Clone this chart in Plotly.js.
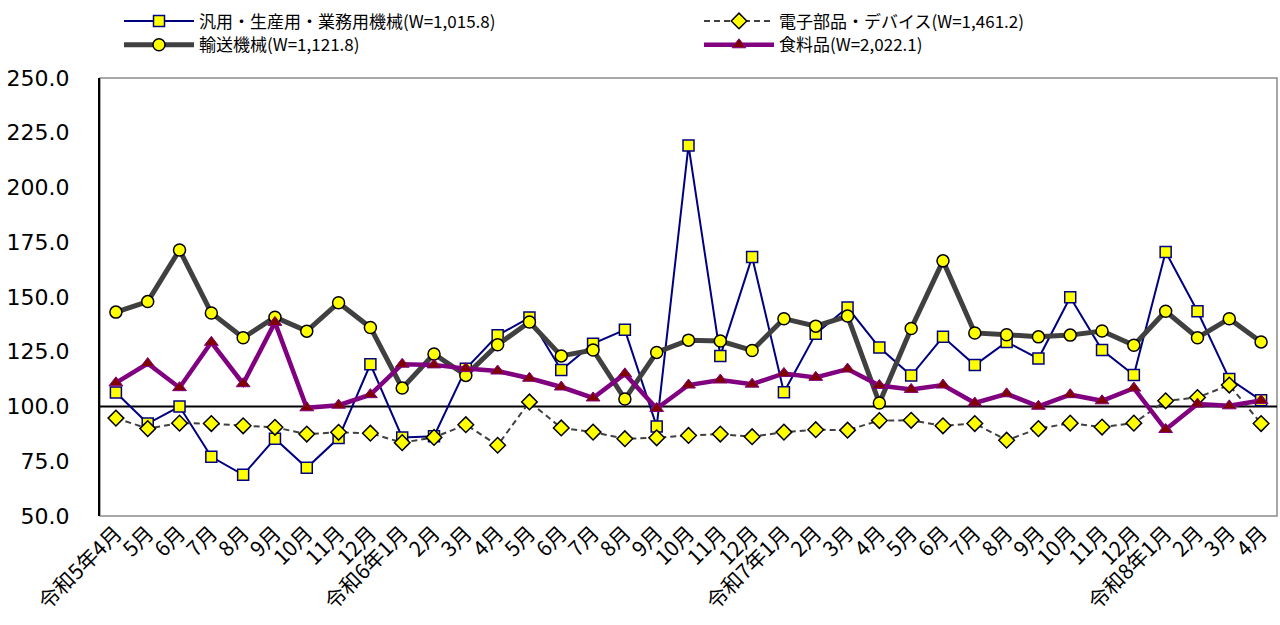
<!DOCTYPE html>
<html>
<head>
<meta charset="utf-8">
<script src="https://cdn.plot.ly/plotly-3.0.1.min.js"></script>
<style>html,body{margin:0;padding:0;background:#fff;}#chart{width:1280px;height:625px;}</style>
</head>
<body>
<div id="chart"></div>
<script>
const categories = ["令和5年4月","5月","6月","7月","8月","9月","10月","11月","12月",
  "令和6年1月","2月","3月","4月","5月","6月","7月","8月","9月","10月","11月","12月",
  "令和7年1月","2月","3月","4月","5月","6月","7月","8月","9月","10月","11月","12月",
  "令和8年1月","2月","3月","4月"];

const seriesNames = ["汎用・生産用・業務用機械(W=1,015.8)","電子部品・デバイス(W=1,461.2)","輸送機械(W=1,121.8)","食料品(W=2,022.1)"];

const machinery = [106.4,92.2,100.0,77.0,68.8,85.3,72.0,85.6,119.3,85.9,86.4,117.2,132.5,140.6,116.7,128.7,135.0,90.9,219.2,123.1,168.3,106.5,133.2,145.2,126.9,114.1,131.8,118.9,129.5,121.9,149.9,125.8,114.4,170.6,143.5,112.6,102.8];
const electronics = [94.7,89.9,92.4,92.2,91.2,90.5,87.4,88.2,87.8,83.5,85.9,91.7,82.3,102.1,90.2,88.3,85.3,85.7,86.8,87.4,86.2,88.3,89.4,89.2,93.6,93.7,91.2,92.2,84.6,89.9,92.4,90.6,92.4,102.6,104.1,109.8,92.2];
const transport = [143.1,147.9,171.5,142.7,131.4,140.8,134.4,147.4,136.1,108.4,124.0,114.2,128.2,138.6,123.1,125.8,103.4,124.7,130.3,129.9,125.6,140.1,136.7,141.3,101.6,135.6,166.5,133.6,132.8,131.8,132.6,134.5,128.0,143.5,131.4,140.1,129.5];
const food = [110.8,119.6,108.6,129.3,110.4,138.4,99.4,100.6,105.4,119.3,119.0,117.3,116.2,112.9,108.9,103.9,114.9,99.1,109.8,112.1,110.2,115.1,113.3,117.1,109.6,107.8,109.8,101.6,105.8,100.1,105.4,102.6,108.4,89.5,101.1,100.3,102.7];

const fontFam = '"Noto Sans CJK JP", "Noto Sans", sans-serif';
const xIdx = categories.map((_, i) => i);

const traces = [
  {x: xIdx, y: machinery, name: seriesNames[0], type: 'scatter', mode: 'lines+markers', legend: 'legend',
   line: {color: '#000080', width: 2},
   marker: {symbol: 'square', size: 11, color: '#FFFF00', line: {color: '#000080', width: 1.5}}},
  {x: xIdx, y: electronics, name: seriesNames[1], type: 'scatter', mode: 'lines+markers', legend: 'legend2',
   line: {color: '#404040', width: 2, dash: '6px,4px'},
   marker: {symbol: 'diamond', size: 12, color: '#FFFF00', line: {color: '#000000', width: 1.5}}},
  {x: xIdx, y: transport, name: seriesNames[2], type: 'scatter', mode: 'lines+markers', legend: 'legend3',
   line: {color: '#404040', width: 5},
   marker: {symbol: 'circle', size: 12, color: '#FFFF00', line: {color: '#000000', width: 1.5}}},
  {x: xIdx, y: food, name: seriesNames[3], type: 'scatter', mode: 'lines+markers', legend: 'legend4',
   line: {color: '#800080', width: 4.5},
   marker: {symbol: 'triangle-up', size: 12, color: '#800000', line: {color: '#800080', width: 1}}}
];

const legendCommon = {
  orientation: 'v', xanchor: 'left', yanchor: 'middle',
  font: {family: fontFam, size: 17, color: '#000000'},
  itemwidth: 70, bgcolor: 'rgba(0,0,0,0)', tracegroupgap: 0
};
const row1 = 1 + (75 - 18) / 441;
const row2 = 1 + (75 - 42) / 441;
const col1 = (119 - 100) / 1177;
const col2 = (699 - 100) / 1177;

const layout = {
  width: 1280, height: 625,
  margin: {l: 100, r: 3, t: 75, b: 109},
  paper_bgcolor: '#ffffff', plot_bgcolor: '#ffffff',
  font: {family: fontFam, color: '#000000'},
  showlegend: true,
  legend: Object.assign({}, legendCommon, {x: col1, y: row1}),
  legend2: Object.assign({}, legendCommon, {x: col2, y: row1}),
  legend3: Object.assign({}, legendCommon, {x: col1, y: row2}),
  legend4: Object.assign({}, legendCommon, {x: col2, y: row2}),
  xaxis: {
    range: [-0.5, categories.length - 0.5],
    tickmode: 'array', tickvals: xIdx, ticktext: categories,
    tickangle: -45, tickfont: {family: fontFam, size: 21, color: '#000'},
    showgrid: false, zeroline: false, showline: false, ticks: '',
    fixedrange: true
  },
  yaxis: {
    range: [50, 250], dtick: 25, tick0: 50, tickformat: '.1f',
    tickfont: {family: '"DejaVu Sans", "Noto Sans", sans-serif', size: 22, color: '#000'},
    showgrid: false, zeroline: false, showline: true, linecolor: '#000', linewidth: 2,
    ticks: '', ticklabelstandoff: 24, fixedrange: true
  },
  shapes: [
    {type: 'rect', xref: 'paper', yref: 'paper', x0: 0, x1: 1, y0: 0, y1: 1,
     line: {color: '#8c8c8c', width: 1.5}, layer: 'below'},
    {type: 'line', xref: 'paper', yref: 'y', x0: 0, x1: 1, y0: 100, y1: 100,
     line: {color: '#000000', width: 2}, layer: 'below'}
  ]
};

Plotly.newPlot('chart', traces, layout, {displayModeBar: false, staticPlot: true});
</script>
</body>
</html>
